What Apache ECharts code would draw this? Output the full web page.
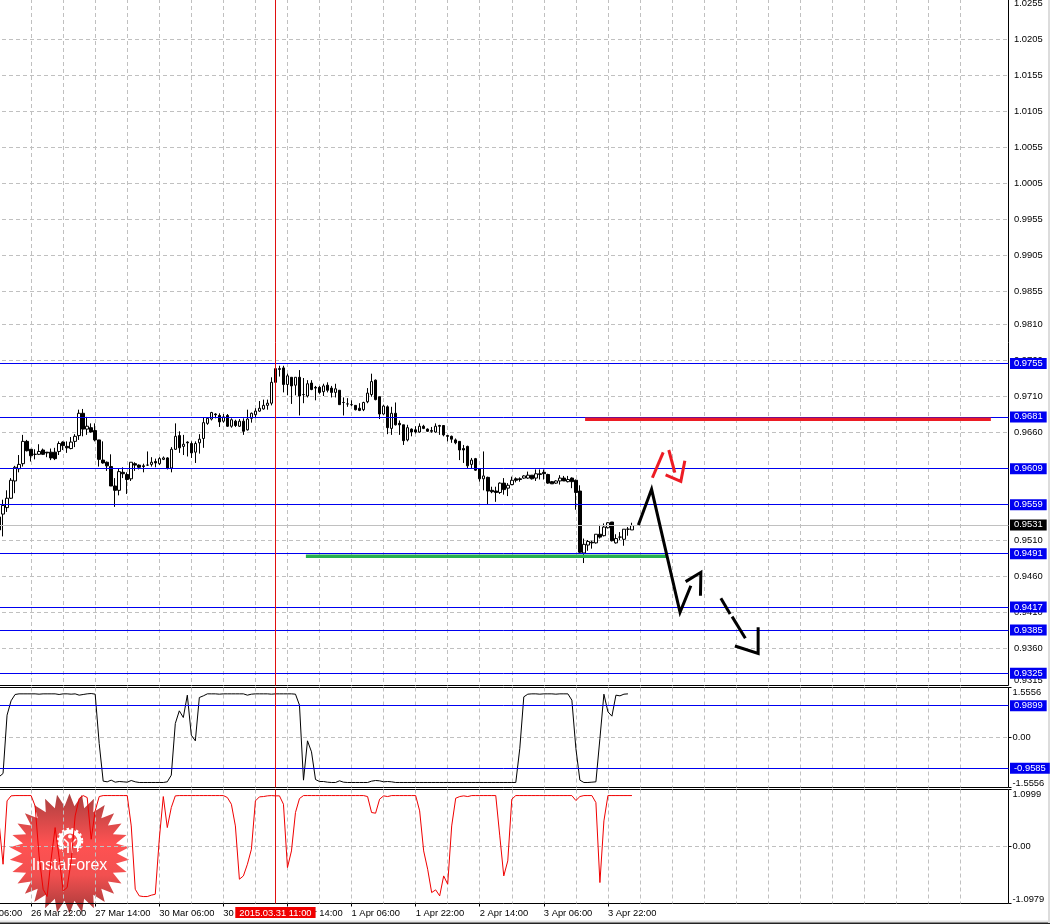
<!DOCTYPE html>
<html><head><meta charset="utf-8">
<style>html,body{margin:0;padding:0;background:#fff}#c{width:1050px;height:924px}</style>
<script src="https://cdn.jsdelivr.net/npm/echarts@6/dist/echarts.min.js"></script>
</head><body><div id="c"></div>
<script>
// ---- values ----
const firstBar = 8;      // first bar with data
const barSlots = 261;    // hourly slots on the time axis
const crosshairBar = '77';
const crosshairLabel = '2015.03.31 11:00';
const timeLabels = ['26 Mar 06:00','26 Mar 22:00','27 Mar 14:00','30 Mar 06:00','30 Mar 22:00','31 Mar 14:00','1 Apr 06:00','1 Apr 22:00','2 Apr 14:00','3 Apr 06:00','3 Apr 22:00'];
const priceTicks = [.9315,.9360,.9410,.9460,.9510,.9560,.9610,.9660,.9710,.9760,.9810,.9855,.9905,.9955,1.0005,1.0055,1.0105,1.0155,1.0205,1.0255];
const blueLevels = [.9755,.9681,.9609,.9559,.9491,.9417,.9385,.9325];
const lastPrice = .9531;
const oscTicks = [-1.5556,0,1.5556];
const oscLevels = [.9899,-.9585];
const rsiTicks = [-1.0979,0,1.0999];

const opens = [.9542,.9546,.9555,.9568,.9592,.9609,.9616,.9647,.9636,.9629,.9629,.9635,.9632,.9632,.9632,.9633,.9646,.9640,.9637,.9647,.9655,.9686,.9664,.9666,.9662,.9649,.9621,.9618,.9612,.9585,.9579,.9604,.9601,.9595,.9616,.9614,.9613,.9614,.9615,.9619,.9616,.9622,.9624,.9610,.9636,.9655,.9640,.9646,.9644,.9632,.9645,.9651,.9672,.9678,.9685,.9683,.9675,.9683,.9668,.9675,.9668,.9675,.9663,.9679,.9684,.9689,.9692,.9697,.9700,.9748,.9748,.9749,.9726,.9736,.9725,.9736,.9712,.9710,.9728,.9722,.9722,.9716,.9725,
.9721,.9715,.9718,.9701,.9699,.9698,.9697,.9693,.9691,.9702,.9712,.9732,.9709,.9685,.9695,.9665,.9686,.9672,.9670,.9649,.9664,.9663,.9660,.9668,.9664,.9662,.9660,.9669,.9669,.9655,.9654,.9649,.9647,.9637,.9640,.9615,.9623,.9609,.9595,.9597,.9579,.9578,.9576,.9589,.9582,.9587,.9595,.9595,.9596,.9596,.9600,.9596,.9602,.9604,.9601,.9591,.9589,.9592,.9596,.9591,.9596,.9593,.9578,.9492,.9503,.9507,.9506,.9518,.9516,.9527,.9535,.9506,.9514,.9511,.9525,.9524];
const closes = [.9524,.9558,.9568,.9593,.9611,.9615,.9647,.9634,.9627,.9629,.9633,.9629,.9631,.9624,.9623,.9644,.9641,.9638,.9646,.9654,.9686,.9664,.9668,.9660,.9649,.9622,.9617,.9613,.9585,.9579,.9605,.9602,.9594,.9618,.9614,.9611,.9612,.9614,.9618,.9617,.9623,.9624,.9610,.9636,.9654,.9638,.9643,.9645,.9631,.9644,.9650,.9673,.9679,.9687,.9684,.9674,.9681,.9668,.9677,.9669,.9675,.9661,.9678,.9686,.9689,.9693,.9697,.9700,.9729,.9729,.9747,.9726,.9738,.9724,.9736,.9710,.9712,.9727,.9719,.9721,.9715,.9724,.9718,
.9715,.9720,.9698,.9701,.9699,.9698,.9691,.9690,.9701,.9714,.9730,.9705,.9685,.9696,.9666,.9686,.9670,.9670,.9648,.9666,.9660,.9660,.9668,.9665,.9661,.9661,.9668,.9668,.9656,.9654,.9650,.9645,.9635,.9635,.9613,.9621,.9607,.9595,.9599,.9578,.9577,.9576,.9589,.9580,.9586,.9593,.9593,.9594,.9599,.9600,.9595,.9602,.9601,.9602,.9589,.9588,.9592,.9596,.9592,.9594,.9591,.9576,.9493,.9504,.9508,.9506,.9518,.9514,.9528,.9534,.9509,.9512,.9514,.9525,.9525,.9530];
const lows = [.9524,.9515,.9549,.9567,.9575,.9604,.9612,.9633,.9619,.9622,.9628,.9628,.9625,.9621,.9621,.9628,.9635,.9631,.9636,.9639,.9649,.9654,.9656,.9659,.9647,.9612,.9616,.9606,.9585,.9556,.9572,.9596,.9574,.9592,.9606,.9608,.9604,.9613,.9612,.9611,.9614,.9621,.9608,.9604,.9635,.9631,.9628,.9626,.9624,.9617,.9630,.9638,.9670,.9676,.9679,.9667,.9673,.9667,.9666,.9667,.9667,.9656,.9662,.9673,.9679,.9688,.9691,.9691,.9697,.9728,.9737,.9715,.9711,.9699,.9711,.9683,.9700,.9708,.9718,.9704,.9713,.9710,.9715,
.9708,.9708,.9698,.9683,.9695,.9696,.9690,.9689,.9689,.9700,.9709,.9704,.9678,.9684,.9657,.9656,.9669,.9656,.9642,.9647,.9654,.9658,.9659,.9664,.9660,.9659,.9659,.9656,.9654,.9647,.9645,.9643,.9621,.9617,.9610,.9609,.9606,.9591,.9579,.9560,.9575,.9563,.9574,.9573,.9571,.9586,.9590,.9591,.9595,.9595,.9594,.9592,.9594,.9594,.9588,.9588,.9588,.9587,.9592,.9590,.9582,.9552,.9491,.9478,.9495,.9498,.9505,.9512,.9515,.9526,.9508,.9505,.9510,.9502,.9516,.9524];
const highs = [.9547,.9566,.9579,.9596,.9613,.9628,.9656,.9649,.9636,.9636,.9643,.9637,.9632,.9637,.9638,.9647,.9647,.9647,.9653,.9657,.9691,.9692,.9681,.9672,.9672,.9649,.9647,.9619,.9629,.9596,.9609,.9611,.9604,.9618,.9618,.9615,.9616,.9633,.9625,.9623,.9625,.9626,.9625,.9639,.9672,.9661,.9656,.9647,.9647,.9647,.9657,.9680,.9680,.9688,.9686,.9686,.9685,.9685,.9679,.9677,.9678,.9679,.9691,.9687,.9693,.9703,.9705,.9705,.9736,.9754,.9752,.9752,.9741,.9736,.9736,.9746,.9735,.9732,.9732,.9724,.9724,.9727,.9729,
.9724,.9727,.9718,.9708,.9707,.9704,.9697,.9700,.9702,.9721,.9741,.9733,.9709,.9698,.9697,.9695,.9701,.9676,.9670,.9670,.9665,.9668,.9672,.9670,.9665,.9667,.9672,.9670,.9669,.9656,.9655,.9651,.9647,.9642,.9641,.9624,.9624,.9609,.9633,.9598,.9584,.9584,.9590,.9596,.9589,.9598,.9597,.9597,.9600,.9605,.9600,.9608,.9608,.9608,.9602,.9592,.9593,.9600,.9599,.9599,.9597,.9594,.9586,.9512,.9510,.9509,.9518,.9531,.9533,.9535,.9535,.9518,.9521,.9525,.9528,.9534];

const oscValues = [-1.224,-1.120,.695,1.141,1.338,1.358,1.358,1.358,1.358,1.358,1.348,1.358,1.358,1.358,1.358,1.338,1.358,1.358,1.348,1.358,1.317,1.338,1.358,1.368,1.348,-.187,-1.358,-1.379,-1.327,-1.390,-1.369,-1.379,-1.390,-1.338,-1.379,-1.400,-1.400,-1.400,-1.400,-1.400,-1.400,-1.400,-1.379,-1.172,.436,.830,.622,1.317,.073,-.104,1.244,1.296,1.358,1.358,1.358,1.348,1.358,1.358,1.358,1.358,1.358,1.358,1.317,1.348,1.358,1.358,1.358,1.358,1.348,1.358,1.358,1.358,1.358,1.358,1.348,1.006,-1.327,-.104,-.446,-1.307,-1.369,-1.369,-1.390,-1.400,-1.400,-1.348,
-1.390,-1.400,-1.400,-1.400,-1.400,-1.400,-1.400,-1.358,-1.338,-1.348,-1.379,-1.369,-1.379,-1.400,-1.400,-1.400,-1.400,-1.400,-1.400,-1.400,-1.400,-1.400,-1.400,-1.400,-1.400,-1.400,-1.400,-1.400,-1.400,-1.400,-1.400,-1.400,-1.400,-1.400,-1.400,-1.400,-1.400,-1.400,-1.400,-1.400,-1.400,-1.400,-1.400,-1.400,-.342,1.265,1.348,1.358,1.358,1.348,1.358,1.358,1.358,1.348,1.358,1.358,1.358,1.161,-.342,-1.327,-1.400,-1.400,-1.390,-1.379,-.031,1.348,.799,.664,1.317,1.296,1.348,1.358];

const rsiValues = [.463,-.341,.880,.977,.983,.983,.983,.983,.983,.784,-.180,-.823,-.964,-.244,.366,-.212,-.855,-.790,-.276,.591,.925,.983,.945,.141,.688,.964,.983,.983,.983,.983,.983,.983,.983,.398,-.823,-.951,-.964,-.964,-.938,-.919,.141,.964,.366,.752,.977,.983,.983,.983,.983,.983,.983,.983,.983,.983,.983,.983,.983,.945,.816,.398,-.630,-.566,-.341,-.051,.880,.958,.964,.977,.983,.977,.977,.816,-.405,-.084,.656,.925,.983,.983,.983,.983,.983,.983,.983,.983,.983,.983,
.983,.983,.983,.983,.983,.983,.964,.656,.643,.913,.977,.964,.983,.983,.983,.983,.983,.983,.983,.688,-.084,-.437,-.887,-.835,-.951,-.566,-.726,.398,.932,.964,.977,.964,.983,.983,.983,.983,.983,.983,.983,.206,-.566,-.276,.913,.983,.983,.983,.983,.983,.983,.983,.983,.983,.983,.983,.983,.983,.983,.983,.887,.964,.983,.983,.983,.848,-.694,.495,.983,.983,.983,.983,.983,.983,.983];

// hand drawn objects on the price pane: [bar, price]
const redLevelLine = [[154.3,.96776],[255.6,.96776]];
const greenLevelLine = [[84.6,.94874],[174.5,.94874]];
const redArrowA = [[173.8,.96318],[171.1,.95965]];
const redArrowB = [[175.2,.9635],[176.7,.96036]];
const redArrowC = [[174.4,.96003],[178.2,.95915],[179.2,.96201]];
const blackPathA = [[167.6,.95308],[170.9,.95804],[178,.94096],[180.7,.94465]];
const blackPathB = [[179.4,.94522],[183.2,.94651],[183.1,.94326]];
const blackDashA = [[188.2,.9429],[190.5,.94072]];
const blackDashB = [[191,.94036],[194.3,.93735]];
const blackPathC = [[191.7,.93628],[197.5,.93526],[197.5,.93887]];

// ---- chart ----
const FONT = '"Liberation Sans"';
const FS = 9.4;
const categories = Array.from({length: barSlots}, (_, i) => String(i));
const emptyBars = n => Array(firstBar).fill(n);
const candles = emptyBars(['-','-','-','-']).concat(opens.map((o, i) => [o, closes[i], lows[i], highs[i]]));
const oscData = emptyBars('-').concat(oscValues);
const rsiData = emptyBars('-').concat(rsiValues);
const BLUE = '#0000f0', GRID = '#c0c0c0', CROSS = '#e01010';

function badge(text, bg, color) {
  return {show: true, position: 'end', distance: 1.5, formatter: text, color: color || '#fff',
    backgroundColor: bg, padding: [1, 4, 0, 4], fontFamily: FONT, fontSize: FS, lineHeight: 10};
}
function level(v, color, bg) {
  return {yAxis: v, lineStyle: {color: color, width: 1, type: 'solid'}, label: badge(v.toFixed(4), bg)};
}
const crossLine = {xAxis: crosshairBar, lineStyle: {color: CROSS, width: 1, type: 'solid'}, label: {show: false}};

const baseGrid = {show: true, left: -33, width: 1041.5, borderColor: '#000', borderWidth: 1, backgroundColor: 'transparent', containLabel: false, outerBoundsMode: 'none'};
function xAxis(gi, withLabels) {
  return {type: 'category', gridIndex: gi, data: categories, boundaryGap: false, position: 'bottom',
    axisLine: {show: false, onZero: false},
    axisTick: {show: withLabels, length: 3, lineStyle: {color: '#000'}, interval: i => i % 16 === 0 && i <= 160},
    axisLabel: {show: withLabels, interval: i => i % 16 === 0 && i <= 160, align: 'left', margin: 5, color: '#000',
      fontFamily: FONT, fontSize: FS, hideOverlap: false, showMinLabel: true, formatter: (v) => timeLabels[+v / 16] || ''},
    splitLine: {show: true, interval: i => i % 8 === 0, showMinLine: false, showMaxLine: false, lineStyle: {color: GRID, type: [4, 3], width: 1}}};
}
function yAxis(gi, min, max, ticks, margin, fmt, alignEnds) {
  const label = {customValues: ticks, margin: margin, color: '#000', fontFamily: FONT, fontSize: FS, formatter: fmt, hideOverlap: false, showMinLabel: true, showMaxLabel: true};
  if (alignEnds) { label.verticalAlignMinLabel = 'bottom'; label.verticalAlignMaxLabel = 'top'; }
  return {type: 'value', gridIndex: gi, position: 'right', min: min, max: max, scale: true,
    axisLine: {show: false}, axisTick: {show: true, length: 3, customValues: ticks, lineStyle: {color: '#000'}},
    axisLabel: label,
    splitLine: {show: true, showMinLine: false, showMaxLine: false, lineStyle: {color: GRID, type: [4, 3], width: 1}}};
}
const f4 = v => v === 0 ? '0.00' : v.toFixed(4);
const drawing = (data, color, width) => ({type: 'line', xAxisIndex: 3, yAxisIndex: 0, data: data, symbol: 'none', silent: true, z: 6,
  lineStyle: {color: color, width: width, cap: 'butt', join: 'miter'}, clip: false});

// decorative watermark
function starPoints(cx, cy, R, r, n) {
  const p = [];
  for (let k = 0; k < 2 * n; k++) {
    const a = Math.PI * k / n - Math.PI / 2, q = k % 2 ? r : R;
    p.push([cx + q * Math.cos(a), cy + q * Math.sin(a)]);
  }
  return p;
}
const CX = 69.5, CY = 853.5;
const logo = [
  {type: 'polygon', z: -1, silent: true, shape: {points: starPoints(CX, CY, 60, 47.5, 30)},
    style: {fill: {type: 'linear', x: 0, y: 0, x2: 0, y2: 1, colorStops: [{offset: 0, color: '#a93f3f'}, {offset: .42, color: '#ff5252'}, {offset: .68, color: '#f25050'}, {offset: 1, color: '#a53a3a'}]}}},
  {type: 'circle', z: -1, silent: true, shape: {cx: 70, cy: 841, r: 9.5}, style: {fill: 'none', stroke: '#fff', lineWidth: 4}},
  {type: 'circle', z: -1, silent: true, shape: {cx: 70, cy: 841, r: 12}, style: {fill: 'none', stroke: '#fff', lineWidth: 2.4, lineDash: [2.4, 2.4]}},
  {type: 'rect', z: -1, silent: true, shape: {x: 63, y: 848, width: 14, height: 7}, style: {fill: '#f05050'}},
  {type: 'circle', z: -1, silent: true, shape: {cx: 70, cy: 836.5, r: 2}, style: {fill: '#fff'}},
  {type: 'polyline', z: -1, silent: true, shape: {points: [[64, 839], [68, 843], [68, 853]]}, style: {fill: 'none', stroke: '#fff', lineWidth: 1.6}},
  {type: 'polyline', z: -1, silent: true, shape: {points: [[76, 839], [72, 843], [72, 853]]}, style: {fill: 'none', stroke: '#fff', lineWidth: 1.6}},
  {type: 'text', z: -1, silent: true, style: {x: 69.5, y: 866, text: 'InstaForex', fill: '#fff', font: '16px "Liberation Sans"', align: 'center', verticalAlign: 'middle'}}
];
const frame = [
  {type: 'rect', silent: true, shape: {x: 0, y: 920.5, width: 1050, height: 2}, style: {fill: '#e4e4e4'}},
  {type: 'rect', silent: true, shape: {x: 0, y: 922.5, width: 1050, height: 1.5}, style: {fill: '#222'}},
  {type: 'rect', silent: true, shape: {x: 1048, y: 0, width: 2, height: 923}, style: {fill: '#dcdcdc'}}
];

const chart = echarts.init(document.getElementById('c'), null, {renderer: 'canvas'});
chart.setOption({
  animation: false,
  backgroundColor: '#fff',
  graphic: {elements: logo.concat(frame)},
  grid: [
    Object.assign({}, baseGrid, {top: -1, height: 686.5}),
    Object.assign({}, baseGrid, {top: 687.5, height: 100}),
    Object.assign({}, baseGrid, {top: 789.5, height: 114})
  ],
  xAxis: [xAxis(0, false), xAxis(1, false), xAxis(2, true),
    {type: 'value', gridIndex: 0, min: 0, max: barSlots - 1, show: false}],
  yAxis: [
    yAxis(0, .930792, 1.026139, priceTicks, 5.5, f4),
    yAxis(1, -1.5556, 1.5556, oscTicks, 4, f4, true),
    yAxis(2, -1.0979, 1.0999, rsiTicks, 4, f4, true)
  ],
  series: [
    {type: 'candlestick', xAxisIndex: 0, yAxisIndex: 0, data: candles, barWidth: 3, clip: false, z: 3, silent: true,
      itemStyle: {color: '#fff', color0: '#000', borderColor: '#000', borderColor0: '#000', borderWidth: 1},
      markLine: {silent: true, symbol: 'none', animation: false, precision: 5, z: 5,
        data: blueLevels.map(v => level(v, BLUE, BLUE)).concat([level(lastPrice, GRID, '#000'), crossLine])}},
    drawing(redLevelLine, '#ed1c24', 3.5),
    drawing(greenLevelLine, '#27ae50', 3.5),
    drawing(redArrowA, '#ed1c24', 3),
    drawing(redArrowB, '#ed1c24', 3),
    drawing(redArrowC, '#ed1c24', 3),
    drawing(blackPathA, '#000', 3),
    drawing(blackPathB, '#000', 3),
    drawing(blackDashA, '#000', 3),
    drawing(blackDashB, '#000', 3),
    drawing(blackPathC, '#000', 3),
    {type: 'line', xAxisIndex: 1, yAxisIndex: 1, data: oscData, symbol: 'none', silent: true, z: 3,
      lineStyle: {color: '#000', width: 1},
      markLine: {silent: true, symbol: 'none', animation: false, precision: 5,
        data: oscLevels.map(v => level(v, BLUE, BLUE)).concat([crossLine])}},
    {type: 'line', xAxisIndex: 2, yAxisIndex: 2, data: rsiData, symbol: 'none', silent: true, z: 3,
      lineStyle: {color: '#f00000', width: 1},
      markLine: {silent: true, symbol: 'none', animation: false,
        data: [{xAxis: crosshairBar, lineStyle: {color: CROSS, width: 1, type: 'solid'},
          label: {show: true, position: 'start', distance: 3.5, formatter: crosshairLabel, color: '#fff', backgroundColor: '#f00000',
            padding: [1, 4, 0, 4], fontFamily: FONT, fontSize: FS, lineHeight: 10}}]}}
  ]
});
</script></body></html>
